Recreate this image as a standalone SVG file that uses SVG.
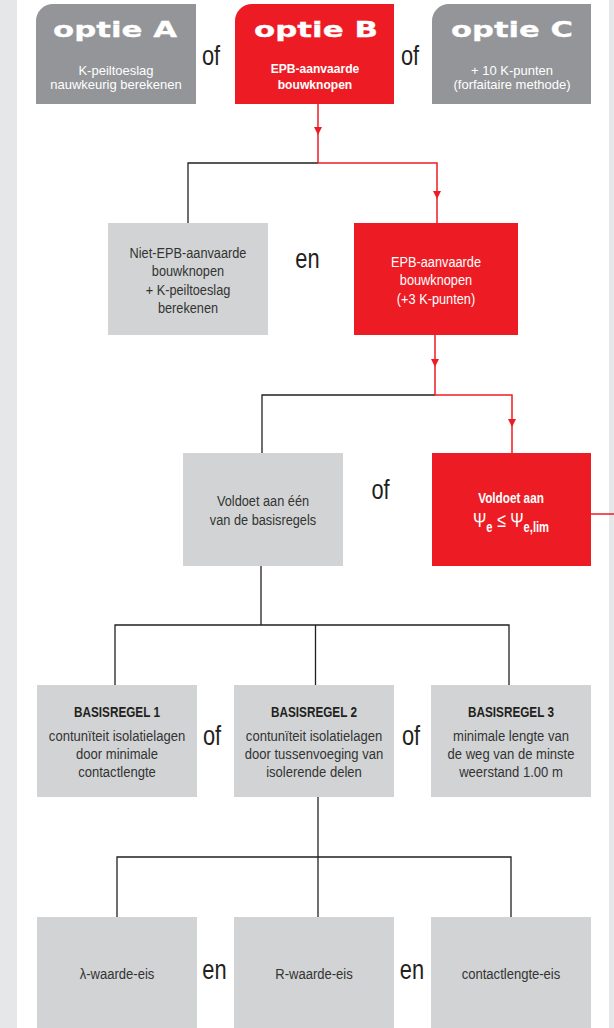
<svg xmlns="http://www.w3.org/2000/svg" width="614" height="1028" viewBox="0 0 614 1028">
<defs>
<marker id="arrR" viewBox="0 0 8 8" refX="8" refY="4" markerWidth="8" markerHeight="8" markerUnits="userSpaceOnUse" orient="auto">
<path d="M0,0 L8,4 L0,8 Z" fill="#ed1c24"/>
</marker>
<style>
.bg{fill:#e6e7e8}
.opt{fill:#939598}
.red{fill:#ed1c24}
.lg{fill:#d1d3d4}
text{font-family:'Liberation Sans',Arial,sans-serif;text-anchor:middle}
.big{font-family:'DejaVu Sans',sans-serif;font-weight:bold;font-size:22px;fill:#fff;stroke:#fff;stroke-width:0.3}
.sw{font-size:13px;fill:#fff}
.swb{font-size:13px;fill:#fff;font-weight:bold}
.t{font-size:14.5px;fill:#333}
.tw{font-size:14.5px;fill:#fff}
.tb{font-size:14px;fill:#231f20;font-weight:bold}
.tbw{font-size:14px;fill:#fff;font-weight:bold}
.of{font-size:28px;fill:#231f20}
.lk{fill:none;stroke:#231f20;stroke-width:1.3}
.lr{fill:none;stroke:#ed1c24;stroke-width:1.5}
</style>
</defs>
<rect class="bg" x="0" y="0" width="614" height="1028"/>
<rect x="17" y="0" width="592" height="1028" fill="#fff"/>

<g id="connectors">
<path class="lk" d="M318,163 H188 V223"/>
<path class="lr" d="M318,104 V135" marker-end="url(#arrR)"/>
<path class="lr" d="M318,135 V163 H437 V199" marker-end="url(#arrR)"/>
<path class="lr" d="M437,199 V223"/>
<path class="lk" d="M435,395 H262 V453"/>
<path class="lr" d="M435,335 V367" marker-end="url(#arrR)"/>
<path class="lr" d="M435,367 V395 H512 V427" marker-end="url(#arrR)"/>
<path class="lr" d="M512,427 V453"/>
<path class="lr" d="M591,514 H614"/>
<path class="lk" d="M261,566 V625"/>
<path class="lk" d="M115,685 V625 H509 V685"/>
<path class="lk" d="M315.5,625 V685"/>
<path class="lk" d="M318,797 V917"/>
<path class="lk" d="M117,917 V857 H511 V917"/>
</g>

<g id="optieA">
<path class="opt" d="M36,104 V21 A17,17 0 0 1 53,4 H196 V104 Z"/>
<text class="big" x="115" y="37" textLength="124" lengthAdjust="spacingAndGlyphs">optie A</text>
<text class="sw" x="116" y="75">K-peiltoeslag</text>
<text class="sw" x="116" y="89">nauwkeurig berekenen</text>
</g>
<text class="of" transform="translate(211 65) scale(.78 1)">of</text>
<g id="optieB">
<path class="red" d="M235,104 V21 A17,17 0 0 1 252,4 H394 V104 Z"/>
<text class="big" x="316" y="37" textLength="124" lengthAdjust="spacingAndGlyphs">optie B</text>
<text class="swb" transform="translate(315 73) scale(.93 1)">EPB-aanvaarde</text>
<text class="swb" transform="translate(315 89) scale(.93 1)">bouwknopen</text>
</g>
<text class="of" transform="translate(410 65) scale(.78 1)">of</text>
<g id="optieC">
<path class="opt" d="M432,104 V21 A17,17 0 0 1 449,4 H591 V104 Z"/>
<text class="big" x="512" y="37" textLength="122" lengthAdjust="spacingAndGlyphs">optie C</text>
<text class="sw" x="512" y="75">+ 10 K-punten</text>
<text class="sw" x="512" y="89">(forfaitaire methode)</text>
</g>

<g id="nietEPB">
<rect class="lg" x="108" y="223" width="160" height="112"/>
<text class="t" transform="translate(188 258) scale(.88 1)">Niet-EPB-aanvaarde</text>
<text class="t" transform="translate(188 276) scale(.88 1)">bouwknopen</text>
<text class="t" transform="translate(188 295) scale(.88 1)">+ K-peiltoeslag</text>
<text class="t" transform="translate(188 313) scale(.88 1)">berekenen</text>
</g>
<text class="of" transform="translate(307.5 268) scale(.78 1)">en</text>
<g id="EPB">
<rect class="red" x="354" y="223" width="164" height="112"/>
<text class="tw" transform="translate(436 267) scale(.88 1)">EPB-aanvaarde</text>
<text class="tw" transform="translate(436 285) scale(.88 1)">bouwknopen</text>
<text class="tw" transform="translate(436 304) scale(.88 1)">(+3 K-punten)</text>
</g>

<g id="basisregels">
<rect class="lg" x="183" y="453" width="160" height="113"/>
<text class="t" transform="translate(263 506) scale(.88 1)">Voldoet aan één</text>
<text class="t" transform="translate(263 525) scale(.88 1)">van de basisregels</text>
</g>
<text class="of" transform="translate(380.5 499) scale(.78 1)">of</text>
<g id="psi">
<rect class="red" x="432" y="453" width="159" height="113"/>
<text class="tbw" transform="translate(511 503) scale(.84 1)" font-size="15">Voldoet aan</text>
<text fill="#fff" font-size="20" transform="translate(511 527) scale(.8 1)">Ψ<tspan font-size="14" font-weight="bold" dy="5">e</tspan><tspan dy="-5"> ≤ Ψ</tspan><tspan font-size="14" font-weight="bold" dy="5">e,lim</tspan></text>
</g>

<g id="basisregel1">
<rect class="lg" x="37" y="685" width="160" height="112"/>
<text class="tb" transform="translate(117 717) scale(.84 1)">BASISREGEL 1</text>
<text class="t" transform="translate(117 741) scale(.9 1)">contunïteit isolatielagen</text>
<text class="t" transform="translate(117 759) scale(.9 1)">door minimale</text>
<text class="t" transform="translate(117 777) scale(.9 1)">contactlengte</text>
</g>
<text class="of" transform="translate(212 745) scale(.78 1)">of</text>
<g id="basisregel2">
<rect class="lg" x="234" y="685" width="160" height="112"/>
<text class="tb" transform="translate(314 717) scale(.84 1)">BASISREGEL 2</text>
<text class="t" transform="translate(314 741) scale(.9 1)">contunïteit isolatielagen</text>
<text class="t" transform="translate(314 759) scale(.9 1)">door tussenvoeging van</text>
<text class="t" transform="translate(314 777) scale(.9 1)">isolerende delen</text>
</g>
<text class="of" transform="translate(411 745) scale(.78 1)">of</text>
<g id="basisregel3">
<rect class="lg" x="431" y="685" width="160" height="112"/>
<text class="tb" transform="translate(511 717) scale(.84 1)">BASISREGEL 3</text>
<text class="t" transform="translate(511 741) scale(.9 1)">minimale lengte van</text>
<text class="t" transform="translate(511 759) scale(.9 1)">de weg van de minste</text>
<text class="t" transform="translate(511 777) scale(.9 1)">weerstand 1.00 m</text>
</g>

<g id="lambda">
<rect class="lg" x="37" y="917" width="160" height="120"/>
<text class="t" transform="translate(117 979) scale(.9 1)">λ-waarde-eis</text>
</g>
<text class="of" transform="translate(214.5 979) scale(.78 1)">en</text>
<g id="rwaarde">
<rect class="lg" x="234" y="917" width="160" height="120"/>
<text class="t" transform="translate(314 979) scale(.9 1)">R-waarde-eis</text>
</g>
<text class="of" transform="translate(412 979) scale(.78 1)">en</text>
<g id="contactlengte">
<rect class="lg" x="431" y="917" width="160" height="120"/>
<text class="t" transform="translate(511 979) scale(.9 1)">contactlengte-eis</text>
</g>
</svg>
